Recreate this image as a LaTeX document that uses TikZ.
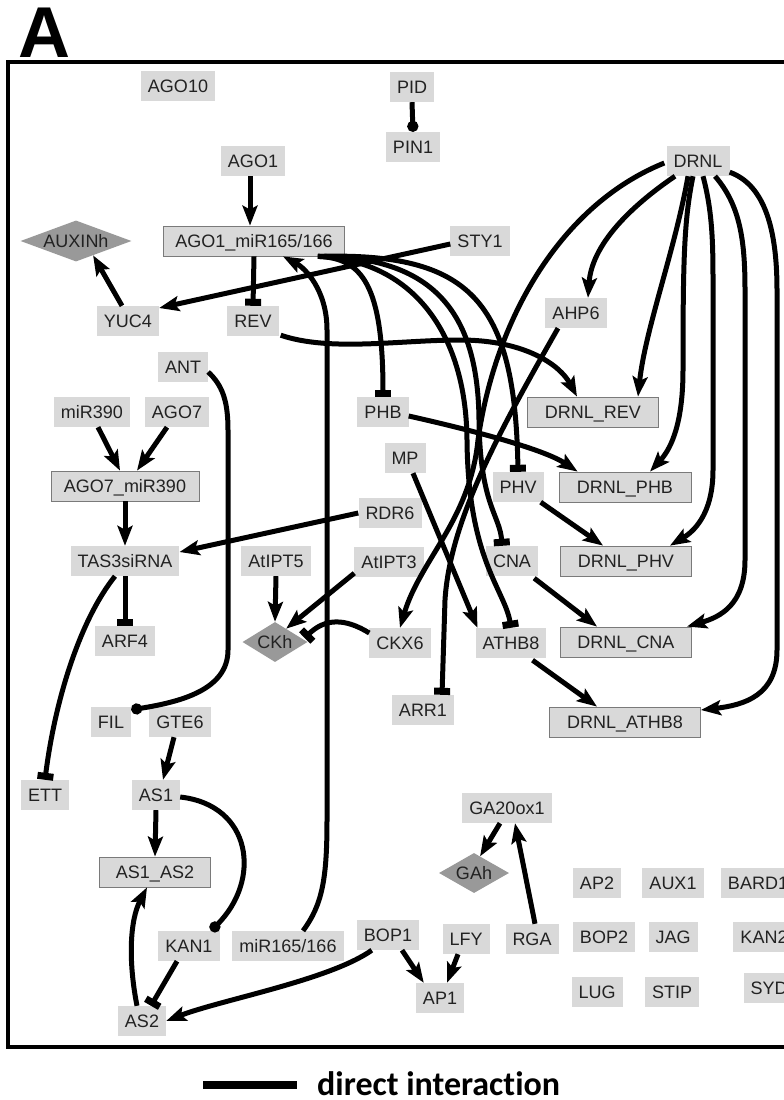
\documentclass[tikz,border=0pt]{standalone}
\usepackage{fontspec}
\setmainfont{Liberation Sans}
\newfontfamily\legfont[Ligatures={NoCommon,NoRare,NoContextual}]{Carlito}
\usetikzlibrary{arrows.meta,shapes.geometric,calc}
\definecolor{boxgray}{HTML}{D9D9D9}
\definecolor{bordergray}{HTML}{7A7A7A}
\definecolor{diagray}{HTML}{999999}
\definecolor{txt}{HTML}{222222}
\tikzset{
 gbox/.style={fill=boxgray, text=txt, font=\fontsize{18}{20}\selectfont, minimum height=30pt, text height=13pt, text depth=0pt, inner xsep=7pt, inner ysep=0pt},
 cbox/.style={gbox, draw=bordergray, line width=0.8pt},
 dia/.style={shape=diamond, fill=diagray, text=txt, font=\fontsize{18}{20}\selectfont, inner sep=0pt, text height=13pt, text depth=0pt},
 ed/.style={line width=5pt, draw=black},
 act/.style={ed, -{Stealth[length=20pt,width=15pt,inset=4pt]}},
 inh/.style={ed, -{Rectangle[length=7pt,width=16pt]}},
 bind/.style={ed, -{Circle[length=11pt]}},
}
\begin{document}
\begin{tikzpicture}[x=1pt,y=-1pt]
\useasboundingbox (0,0) rectangle (784,1100);
\clip (0,0) rectangle (784,1100);
\fill[white] (0,0) rectangle (784,1100);
% panel letter and frame
\node[anchor=base west, inner sep=0pt, font=\fontsize{72}{72}\selectfont\bfseries] (letter) at (18,57) {A};
\draw[line width=4pt] (790,62) -- (8,62) -- (8,1047) -- (790,1047);
% simple nodes
\node[gbox] (ago10) at (178,86) {AGO10};
\node[gbox] (pid) at (412,87) {PID};
\node[gbox] (pin1) at (413,147) {PIN1};
\node[gbox] (ago1) at (253,161) {AGO1};
\node[gbox] (sty1) at (480,241) {STY1};
\node[gbox] (drnl) at (698,161) {DRNL};
\node[gbox] (yuc4) at (128,321) {YUC4};
\node[gbox] (rev) at (253,321) {REV};
\node[gbox] (ant) at (183,367) {ANT};
\node[gbox] (mir390) at (92,412) {miR390};
\node[gbox] (ago7) at (177,412) {AGO7};
\node[gbox] (phb) at (383,412) {PHB};
\node[gbox] (mp) at (405,458) {MP};
\node[gbox] (rdr6) at (390,513) {RDR6};
\node[gbox] (atipt3) at (389,562) {AtIPT3};
\node[gbox] (ckx6) at (400,643) {CKX6};
\node[gbox] (phv) at (518,487) {PHV};
\node[gbox] (cna) at (512,561) {CNA};
\node[gbox] (athb8) at (511,643) {ATHB8};
\node[gbox] (ahp6) at (576,313) {AHP6};
\node[gbox] (arr1) at (423,710) {ARR1};
\node[gbox] (ga20) at (507,808) {GA20ox1};
\node[gbox] (ap2) at (597,883) {AP2};
\node[gbox] (aux1) at (673,883) {AUX1};
\node[gbox] (bard1) at (758,883) {BARD1};
\node[gbox] (bop2) at (604,937) {BOP2};
\node[gbox] (jag) at (673,937) {JAG};
\node[gbox] (kan2) at (764,937) {KAN2};
\node[gbox] (lug) at (597,992) {LUG};
\node[gbox] (stip) at (672,992) {STIP};
\node[gbox] (syd) at (769,988) {SYD};
\node[gbox] (rga) at (532,939) {RGA};
\node[gbox] (lfy) at (466,939) {LFY};
\node[gbox] (bop1) at (388,935) {BOP1};
\node[gbox] (ap1) at (440,998) {AP1};
\node[gbox] (mir165) at (288,946) {miR165/166};
\node[gbox] (kan1) at (189,946) {KAN1};
\node[gbox] (as2) at (142,1021) {AS2};
\node[gbox] (as1) at (156,795) {AS1};
\node[gbox] (ett) at (45,795) {ETT};
\node[gbox] (fil) at (111,722) {FIL};
\node[gbox] (gte6) at (180,722) {GTE6};
\node[gbox] (tas3) at (125,561) {TAS3siRNA};
\node[gbox] (arf4) at (125,641) {ARF4};
\node[gbox] (atipt5) at (276,561) {AtIPT5};
% complexes
\node[cbox, minimum width=181pt] (ago1mir) at (254,241) {AGO1\_miR165/166};
\node[cbox, minimum width=148pt] (ago7mir) at (125,486) {AGO7\_miR390};
\node[cbox, minimum width=131pt] (drnlrev) at (593,412) {DRNL\_REV};
\node[cbox, minimum width=132pt] (drnlphb) at (625,487) {DRNL\_PHB};
\node[cbox, minimum width=131pt] (drnlphv) at (626,561) {DRNL\_PHV};
\node[cbox, minimum width=131pt] (drnlcna) at (626,642) {DRNL\_CNA};
\node[cbox, minimum width=151pt] (drnlathb8) at (625,722) {DRNL\_ATHB8};
\node[cbox, minimum width=111pt] (as1as2) at (155,872) {AS1\_AS2};
% hormones
\node[dia, aspect=2.7, minimum width=111pt, minimum height=41pt] (auxinh) at (76,241) {AUXINh};
\node[dia, aspect=1.6, minimum width=65pt, minimum height=40pt] (ckh) at (275,642) {CKh};
\node[dia, aspect=1.75, minimum width=70pt, minimum height=40pt] (gah) at (474,873) {GAh};
% edges
\draw[bind] (pid.south) -- (pin1.north);
\draw[act] ($(ago1.south)+(-3,0)$) -- ($(ago1mir.north)+(-4,0)$);
\draw[inh] (ago1mir.south) -- (rev.north);
\draw[act] ($(sty1.west)+(0,3)$) -- ($(yuc4.east)+(0,-13)$);
\draw[act] ($(yuc4.north)+(-6,0)$) -- (auxinh.-40);
\draw[inh] ($(ago1mir.south east)+(-27,0)$) .. controls (362,258) and (383,285) .. (phb.north);
\draw[inh] ($(ago1mir.south east)+(-27,0)$) .. controls (470,252) and (515,300) .. (phv.north);
\draw[inh] ($(ago1mir.south east)+(-27,0)$) .. controls (440,256) and (478,320) .. (479,420) .. controls (480,505) and (500,515) .. ($(cna.north)+(-10,0)$);
\draw[inh] ($(ago1mir.south east)+(-27,0)$) .. controls (410,260) and (466,330) .. (467,440) .. controls (468,560) and (505,590) .. (athb8.north);
\draw[act] ($(mir165.north)+(15,0)$) .. controls (322,905) and (327,880) .. (327,820) -- (327,330) .. controls (327,290) and (305,268) .. ($(ago1mir.south)+(29,0)$);
\draw[act] ($(rev.south east)+(2,-1)$) .. controls (330,352) and (400,340) .. (460,340) .. controls (525,340) and (560,365) .. ($(drnlrev.north)+(-16,0)$);
\draw[act] ($(drnl.south)+(-23,0)$) .. controls (640,200) and (592,240) .. ($(ahp6.north)+(12,0)$);
\draw[act] ($(drnl.south)+(-10,0)$) .. controls (675,250) and (645,330) .. ($(drnlrev.north)+(45,0)$);
\draw[act] ($(drnl.south)+(-5,0)$) .. controls (684,220) and (683,260) .. (683,370) .. controls (683,430) and (668,452) .. ($(drnlphb.north)+(25,0)$);
\draw[act] ($(drnl.south)+(5,0)$) .. controls (712,210) and (713,240) .. (713,280) -- (713,470) .. controls (713,515) and (693,532) .. ($(drnlphv.north)+(44,0)$);
\draw[act] ($(drnl.south)+(17,0)$) .. controls (740,205) and (745,240) .. (745,290) -- (745,560) .. controls (745,605) and (720,617) .. ($(drnlcna.north)+(61,0)$);
\draw[act] ($(drnl.south east)+(0,-4)$) .. controls (765,185) and (777,230) .. (777,290) -- (777,650) .. controls (777,695) and (745,705) .. ($(drnlathb8.east)+(0,-12)$);
\draw[act] ($(drnl.west)+(-2,2)$) .. controls (560,205) and (495,320) .. (478,440) .. controls (470,520) and (420,560) .. (ckx6.north);
\draw[inh] ($(ahp6.south)+(-18,0)$) .. controls (500,430) and (450,520) .. (445,600) -- ($(arr1.north)+(19,0)$);
\draw[act] ($(phb.east)+(0,4)$) .. controls (480,432) and (545,450) .. ($(drnlphb.north west)+(19,0)$);
\draw[act] ($(phv.south east)+(-3,0)$) -- ($(drnlphv.north)+(-23,0)$);
\draw[act] ($(cna.south east)+(-4,2)$) -- ($(drnlcna.north)+(-29,0)$);
\draw[act] ($(athb8.south east)+(-14,2)$) -- ($(drnlathb8.north)+(-28,0)$);
\draw[act] ($(mp.south)+(8,0)$) -- ($(athb8.north west)+(2,0)$);
\draw[act] (rdr6.west) -- ($(tas3.east)+(0,-9)$);
\draw[act] ($(mir390.south)+(6,0)$) -- ($(ago7mir.north)+(-5,0)$);
\draw[act] ($(ago7.south)+(-10,0)$) -- ($(ago7mir.north)+(12,0)$);
\draw[act] (ago7mir.south) -- (tas3.north);
\draw[inh] (tas3.south) -- (arf4.north);
\draw[inh] ($(tas3.south)+(-10,0)$) .. controls (80,620) and (55,700) .. (ett.north);
\draw[act] (atipt5.south) -- (ckh.north);
\draw[act] ($(atipt3.south west)+(0,-4)$) -- (ckh.50);
\draw[inh] ($(ckx6.west)+(0,-10)$) .. controls (345,618) and (325,618) .. ($(ckh.east)+(-3,-4)$);
\draw[bind] ($(ant.east)+(0,5)$) .. controls (222,385) and (228,400) .. (228,430) -- (228,650) .. controls (228,690) and (180,702) .. ($(fil.north east)+(0,3)$);
\draw[act] ($(gte6.south)+(-6,0)$) -- ($(as1.north)+(7,0)$);
\draw[act] (as1.south) -- (as1as2.north);
\draw[bind] ($(as1.east)+(0,2)$) .. controls (252,805) and (262,880) .. ($(kan1.north)+(22,0)$);
\draw[inh] ($(kan1.south)+(-12,0)$) -- ($(as2.north)+(9,0)$);
\draw[act] ($(as2.north)+(-5,0)$) .. controls (128,960) and (130,920) .. ($(as1as2.south)+(-8,0)$);
\draw[act] ($(bop1.south west)+(15,0)$) .. controls (330,980) and (220,1000) .. (as2.east);
\draw[act] ($(bop1.south)+(14,0)$) -- ($(ap1.north west)+(8,0)$);
\draw[act] ($(lfy.south)+(-8,0)$) -- ($(ap1.north)+(7,0)$);
\draw[act] ($(rga.north)+(3,0)$) -- ($(ga20.south)+(8,0)$);
\draw[act] ($(ga20.south)+(-7,0)$) -- (gah.70);
% legend
\coordinate (legA) at (203,1085);
\coordinate (legB) at (297,1085);
\draw[line width=8pt] (legA) -- (legB);
\node[anchor=base west, inner sep=0pt, font=\legfont\fontsize{34}{34}\selectfont\bfseries] (legtext) at (317,1095) {direct interaction};
\end{tikzpicture}
\end{document}
